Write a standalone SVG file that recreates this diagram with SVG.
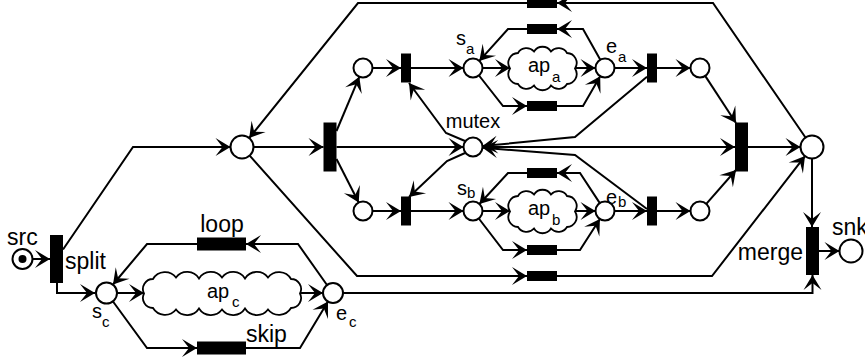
<svg xmlns="http://www.w3.org/2000/svg" width="865" height="358" viewBox="0 0 865 358">
<style>
.l{fill:none;stroke:#000;stroke-width:2}
.a{marker-end:url(#ah)}
.p{fill:#fff;stroke:#000;stroke-width:2}
.t{fill:#000;stroke:none}
.c{fill:#fff;stroke:#000;stroke-width:1.8}
text{font-family:"Liberation Sans",Arial,sans-serif;fill:#000}
.lb{font-size:23px}
.sm{font-size:20px}
.sb{font-size:15px}
</style>
<defs>
<marker id="ah" viewBox="-17 -10 19 20" markerWidth="19" markerHeight="20" refX="0" refY="0" orient="auto" markerUnits="userSpaceOnUse">
<path d="M0,0 L-15,-9 L-8,0 L-15,9 Z" fill="#000"/>
</marker>
<path id="cloudA" d="M510,68.5 A10,10 0 0 1 518,53 A10,10 0 0 1 534,51.5 A10,10 0 0 1 551,51.5 A10,10 0 0 1 567,53 A10,10 0 0 1 575,68.5 A10,10 0 0 1 567,84 A10,10 0 0 1 551,85.5 A10,10 0 0 1 534,85.5 A10,10 0 0 1 518,84 A10,10 0 0 1 510,68.5 Z"/>
</defs>
<rect width="865" height="358" fill="#fff"/>
<g id="connectors">
<path class="l a" d="M32.5,259 L50,259"/>
<path class="l a" d="M63,249.5 L133,147 L230.5,147"/>
<path class="l a" d="M57,283 L57,293 L95,293"/>
<path class="l a" d="M117,293 L144,293"/>
<path class="l a" d="M300,293 L323,293"/>
<path class="l a" d="M327,285 L298,244 L246,244"/>
<path class="l a" d="M197,244 L147,244 L113,284.5"/>
<path class="l a" d="M113,301.5 L147,348 L197,348"/>
<path class="l a" d="M246,348 L300,348 L328,301.6"/>
<path class="l a" d="M343,293 L812.5,293 L812.5,275"/>
<path class="l a" d="M253.5,147 L323.5,147"/>
<path class="l a" d="M336.5,131 L359.3,76.8"/>
<path class="l a" d="M336.5,159 L358.7,202.5"/>
<path class="l a" d="M336.5,147 L463.5,147"/>
<path class="l a" d="M372.5,68 L401,68"/>
<path class="l a" d="M411,68 L463.5,68"/>
<path class="l a" d="M465,141 L446,133 L409,83"/>
<path class="l a" d="M465,153 L447,161 L409,197"/>
<path class="l a" d="M482.5,68 L510,68"/>
<path class="l a" d="M575,68 L595.5,68"/>
<path class="l a" d="M479,75.5 L503,106 L527,106"/>
<path class="l a" d="M557,106 L583,106 L600.2,76.2"/>
<path class="l a" d="M600.3,59.7 L583,29 L557,29"/>
<path class="l a" d="M527,29 L508,29 L479.3,60.9"/>
<path class="l a" d="M614.5,68 L647,68"/>
<path class="l a" d="M657,68 L690.5,68"/>
<path class="l a" d="M647,76.8 L575,137 L482.5,146.1"/>
<path class="l a" d="M647,209 L575,155 L482.5,147.8"/>
<path class="l a" d="M482.5,147 L735,147"/>
<path class="l a" d="M705.2,75.9 L736,123"/>
<path class="l a" d="M706.3,203.9 L736,170"/>
<path class="l a" d="M748,147 L800.5,147"/>
<path class="l a" d="M805.5,137.5 L713,3 L557,3"/>
<path class="l a" d="M527,3 L358,3 L249.2,138"/>
<path class="l a" d="M249.7,155.6 L357,276 L527,276"/>
<path class="l a" d="M557,276 L712,276 L805,156.1"/>
<path class="l a" d="M812,158.5 L812,227"/>
<path class="l a" d="M819,251 L839.5,251"/>
<path class="l a" d="M372.5,211 L401,211"/>
<path class="l a" d="M411,211 L463.5,211"/>
<path class="l a" d="M482.5,211 L510,211"/>
<path class="l a" d="M575,211 L595.5,211"/>
<path class="l a" d="M614.5,211 L647,211"/>
<path class="l a" d="M657,211 L690.5,211"/>
<path class="l a" d="M599.8,203.1 L580,173 L557,173"/>
<path class="l a" d="M527,173 L508,173 L479.4,204"/>
<path class="l a" d="M478.8,218.5 L503,250 L527,250"/>
<path class="l a" d="M557,250 L580,250 L599.9,219"/>
</g>
<g id="src"><circle class="p" cx="22.5" cy="259" r="10"/><circle class="t" cx="22.5" cy="259" r="4"/><text class="lb" x="7" y="245">src</text></g>
<g id="split"><rect class="t" x="50" y="235" width="13" height="48"/><text class="lb" x="65" y="269">split</text></g>
<g id="s_c"><circle class="p" cx="106.5" cy="293" r="10.5"/><text class="sm" x="92" y="318">s</text><text class="sb" x="102" y="327">c</text></g>
<g id="ap_c"><path class="c" d="M144,293.5 A10,10 0 0 1 153,279 A14,14 0 0 1 176,277.5 A14,14 0 0 1 199,278.5 A14,14 0 0 1 222,277.5 A14,14 0 0 1 245,278.5 A14,14 0 0 1 268,277.5 A14,14 0 0 1 291,279 A10,10 0 0 1 300,293.5 A10,10 0 0 1 291,308 A14,14 0 0 1 268,309.5 A14,14 0 0 1 245,308.5 A14,14 0 0 1 222,309.5 A14,14 0 0 1 199,308.5 A14,14 0 0 1 176,309.5 A14,14 0 0 1 153,308 A10,10 0 0 1 144,293.5 Z"/><text class="sm" x="207" y="298">ap</text><text class="sb" x="232" y="307">c</text></g>
<g id="e_c"><circle class="p" cx="333" cy="293" r="10"/><text class="sm" x="336" y="320">e</text><text class="sb" x="349" y="327">c</text></g>
<g id="loop"><rect class="t" x="197" y="237.5" width="49" height="13"/><text class="lb" x="222" y="232" text-anchor="middle">loop</text></g>
<g id="skip"><rect class="t" x="197" y="341.5" width="49" height="13"/><text class="lb" x="246" y="342">skip</text></g>
<g id="p_in"><circle class="p" cx="242" cy="147" r="11.5"/></g>
<g id="and_split"><rect class="t" x="323.5" y="122.5" width="13" height="49"/></g>
<g id="p_a0"><circle class="p" cx="363" cy="68" r="9.5"/></g>
<g id="p_b0"><circle class="p" cx="363" cy="211" r="9.5"/></g>
<g id="t_a0"><rect class="t" x="401" y="53.5" width="10" height="29"/></g>
<g id="t_b0"><rect class="t" x="401" y="196.5" width="10" height="29"/></g>
<g id="mutex"><circle class="p" cx="473" cy="147" r="9.5"/><text class="sm" x="473" y="128" text-anchor="middle">mutex</text></g>
<g id="s_a"><circle class="p" cx="473" cy="68" r="9.5"/><text class="sm" x="456" y="45">s</text><text class="sb" x="466" y="54">a</text></g>
<g id="s_b"><circle class="p" cx="473" cy="211" r="9.5"/><text class="sm" x="457" y="195">s</text><text class="sb" x="467" y="198">b</text></g>
<g id="ap_a"><use href="#cloudA" class="c"/><text class="sm" x="528" y="72">ap</text><text class="sb" x="552" y="82">a</text></g>
<g id="ap_b"><use href="#cloudA" class="c" transform="translate(0,143)"/><text class="sm" x="528" y="215">ap</text><text class="sb" x="552" y="225">b</text></g>
<g id="t_top"><rect class="t" x="527" y="-2" width="30" height="10"/></g>
<g id="loop_a"><rect class="t" x="527" y="24" width="30" height="10"/></g>
<g id="skip_a"><rect class="t" x="527" y="101" width="30" height="10"/></g>
<g id="loop_b"><rect class="t" x="527" y="168" width="30" height="10"/></g>
<g id="skip_b"><rect class="t" x="527" y="245" width="30" height="10"/></g>
<g id="bypass"><rect class="t" x="527" y="271" width="30" height="10"/></g>
<g id="e_a"><circle class="p" cx="605" cy="68" r="9.5"/><text class="sm" x="606" y="53">e</text><text class="sb" x="618" y="62">a</text></g>
<g id="e_b"><circle class="p" cx="605" cy="211" r="9.5"/><text class="sm" x="606" y="204">e</text><text class="sb" x="618" y="207">b</text></g>
<g id="t_a1"><rect class="t" x="647" y="53.5" width="10" height="29"/></g>
<g id="t_b1"><rect class="t" x="647" y="196.5" width="10" height="29"/></g>
<g id="p_a1"><circle class="p" cx="700" cy="68" r="9.5"/></g>
<g id="p_b1"><circle class="p" cx="700" cy="211" r="9.5"/></g>
<g id="and_join"><rect class="t" x="735" y="122.5" width="13" height="49"/></g>
<g id="p_out"><circle class="p" cx="812" cy="147" r="11.5"/></g>
<g id="merge"><rect class="t" x="806" y="227" width="13" height="48"/><text class="lb" x="803" y="260" text-anchor="end">merge</text></g>
<g id="snk"><circle class="p" cx="851" cy="251" r="11.5"/><text class="lb" x="832" y="235">snk</text></g>
</svg>
